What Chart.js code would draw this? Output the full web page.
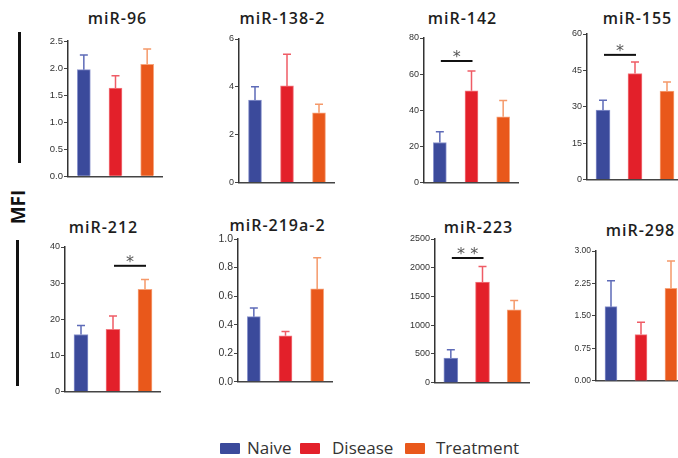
<!DOCTYPE html>
<html>
<head>
<meta charset="utf-8">
<script src="https://cdn.jsdelivr.net/npm/chart.js@4.4.1/dist/chart.umd.min.js"></script>
<style>
  body { margin: 0; width: 678px; height: 458px; overflow: hidden; background: #fff; position: relative; font-family: "Open Sans", sans-serif; }
  canvas, .title, .vline, .mfi, .legend { position: absolute; }
  .title { font-weight: 600; font-size: 16px; letter-spacing: 1px; color: #1e1e1e; text-align: center; width: 140px; line-height: 20px; }
  .vline { width: 3px; background: #111; }
  .mfi { font-weight: bold; font-size: 19px; color: #111; transform: rotate(-90deg); transform-origin: center; width: 60px; text-align: center; line-height: 22px; }
  .legend { top: 437px; left: 0; width: 678px; height: 22px; font-size: 17px; color: #333; }
  .legend span { position: absolute; top: 0; line-height: 22px; }
  .legend i { position: absolute; top: 6px; width: 20px; height: 11px; border-radius: 1px; }
</style>
</head>
<body>
<div class="vline" style="left:18px; top:32px; height:131px;"></div>
<div class="vline" style="left:16px; top:240px; height:146px;"></div>
<div class="mfi" style="left:-12px; top:196px;">MFI</div>

<div class="legend">
  <i style="left:220px; background:#3b4a9b;"></i><span style="left:247px;">Naive</span>
  <i style="left:300px; background:#e3202a;"></i><span style="left:332px;">Disease</span>
  <i style="left:405px; background:#e9581b;"></i><span style="left:436px;">Treatment</span>
</div>

<script>
const panelTitles = ['miR-96', 'miR-138-2', 'miR-142', 'miR-155', 'miR-212', 'miR-219a-2', 'miR-223', 'miR-298'];
const categories = ['Naive', 'Disease', 'Treatment'];

const naiveMean     = [1.97, 3.45, 22.2, 28.6, 15.8, 0.456, 428, 1.715];
const diseaseMean   = [1.63, 4.04, 50.8, 43.7, 17.2, 0.322, 1748, 1.069];
const treatmentMean = [2.07, 2.92, 36.4, 36.5, 28.3, 0.650, 1267, 2.138];

const naiveSem     = [0.27, 0.56, 5.9, 4.1, 2.5, 0.060, 145, 0.600];
const diseaseSem   = [0.23, 1.32, 10.9, 4.8, 3.7, 0.030, 272, 0.285];
const treatmentSem = [0.28, 0.35, 9.0, 3.7, 2.7, 0.218, 162, 0.632];

const yMax = [2.5, 6, 80, 60, 40, 1.0, 2500, 3.0];
const yStep = [0.5, 2, 20, 15, 10, 0.2, 500, 0.75];
const tickDecimals = [1, 0, 0, 0, 0, 1, 0, 2];

// significance brackets
const sigPanel = [2, 3, 4, 6];
const sigFrom  = [0, 0, 1, 0];
const sigTo    = [1, 1, 2, 1];
const sigLevel = [67.3, 51.4, 34.8, 2170];
const sigLabel = ['*', '*', '*', '* *'];

// page placement of each small chart
const boxes = [
  { x: 68,  top: 41,  bottom: 177, right: 163, bar: 13, tick: 9.5, tx: 117, ty: 19.3 },
  { x: 239, top: 39,  bottom: 183, right: 335, bar: 13, tick: 9,   tx: 282, ty: 19.3 },
  { x: 424, top: 38,  bottom: 183, right: 519, bar: 13, tick: 9,   tx: 462, ty: 19.3 },
  { x: 587, top: 34,  bottom: 180, right: 683, bar: 14, tick: 9,   tx: 637, ty: 19.3 },
  { x: 65,  top: 247, bottom: 392, right: 161, bar: 14, tick: 9,   tx: 103, ty: 227.5 },
  { x: 238, top: 239, bottom: 383, right: 333, bar: 13, tick: 10.5, tx: 277, ty: 225.5 },
  { x: 435, top: 239, bottom: 383, right: 530, bar: 14, tick: 9,   tx: 478, ty: 227.5 },
  { x: 596, top: 251, bottom: 381, right: 686, bar: 12, tick: 8.5, tx: 640, ty: 230.5 }
];

const fillColors = ['#3b4a9b', '#e3202a', '#e9581b'];
const edgeColors = ['#8a94cc', '#f27a80', '#f6a47c'];
const errColors  = ['#5e6bb8', '#ef5c66', '#f5996a'];

const errorBars = {
  id: 'errorBars',
  afterDatasetsDraw(chart, args, opts) {
    const ctx = chart.ctx;
    const y = chart.scales.y;
    const meta = chart.getDatasetMeta(0);
    const ds = chart.data.datasets[0];
    meta.data.forEach((bar, k) => {
      const top = y.getPixelForValue(ds.data[k] + opts.sem[k]);
      ctx.save();
      ctx.strokeStyle = errColors[k];
      ctx.lineWidth = 1.5;
      ctx.beginPath();
      ctx.moveTo(bar.x, bar.y);
      ctx.lineTo(bar.x, top);
      ctx.moveTo(bar.x - 4, top);
      ctx.lineTo(bar.x + 4, top);
      ctx.stroke();
      ctx.restore();
    });
  }
};

const sigBars = {
  id: 'sigBars',
  afterDatasetsDraw(chart, args, opts) {
    if (opts.idx < 0) return;
    const j = opts.idx;
    const ctx = chart.ctx;
    const x = chart.scales.x, y = chart.scales.y;
    const x1 = x.getPixelForValue(sigFrom[j]) + 1;
    const x2 = x.getPixelForValue(sigTo[j]) + 1;
    const yy = y.getPixelForValue(sigLevel[j]);
    ctx.save();
    ctx.strokeStyle = '#111';
    ctx.lineWidth = 2;
    ctx.beginPath();
    ctx.moveTo(x1, yy);
    ctx.lineTo(x2, yy);
    ctx.stroke();
    ctx.fillStyle = '#555';
    ctx.font = '16px "DejaVu Sans"';
    ctx.textAlign = 'center';
    ctx.textBaseline = 'alphabetic';
    ctx.fillText(sigLabel[j], (x1 + x2) / 2, yy + 1);
    ctx.restore();
  }
};

panelTitles.forEach((title, i) => {
  const b = boxes[i];
  const t = document.createElement('div');
  t.className = 'title';
  t.textContent = title;
  t.style.left = (b.tx - 70 + 0.5) + 'px';
  t.style.top = (b.ty - 11) + 'px';
  document.body.appendChild(t);

  const cv = document.createElement('canvas');
  const w = b.right - b.x + 40, h = b.bottom - b.top + 14;
  cv.width = w; cv.height = h;
  cv.style.left = (b.x - 40) + 'px';
  cv.style.top = (b.top - 8) + 'px';
  cv.style.width = w + 'px'; cv.style.height = h + 'px';
  document.body.appendChild(cv);

  new Chart(cv.getContext('2d'), {
    type: 'bar',
    data: {
      labels: categories,
      datasets: [{
        data: [naiveMean[i], diseaseMean[i], treatmentMean[i]],
        backgroundColor: fillColors,
        borderColor: edgeColors,
        borderWidth: 1,
        barThickness: b.bar
      }]
    },
    options: {
      responsive: false,
      animation: false,
      devicePixelRatio: 1,
      layout: { padding: { top: 8, bottom: 6, left: 0, right: 0 } },
      plugins: {
        legend: { display: false },
        tooltip: { enabled: false },
        errorBars: { sem: [naiveSem[i], diseaseSem[i], treatmentSem[i]] },
        sigBars: { idx: sigPanel.indexOf(i) }
      },
      scales: {
        x: {
          ticks: { display: false },
          grid: { display: false },
          border: { color: '#444', width: 1.5 },
          afterFit: s => { s.height = 0; }
        },
        y: {
          min: 0, max: yMax[i],
          ticks: {
            stepSize: yStep[i],
            padding: 1,
            color: '#333',
            font: { family: '"Liberation Sans", Arial', size: b.tick },
            callback: v => Number(v).toFixed(tickDecimals[i])
          },
          grid: { drawOnChartArea: false, drawTicks: true, tickLength: 4, color: '#444', lineWidth: 1 },
          border: { color: '#333', width: 1.5 },
          afterFit: s => { s.width = 40; }
        }
      }
    },
    plugins: [errorBars, sigBars]
  });
});
</script>
</body>
</html>
